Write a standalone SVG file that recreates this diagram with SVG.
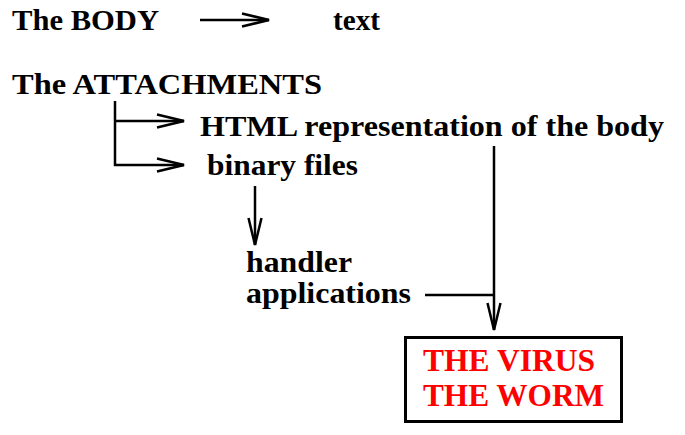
<svg xmlns="http://www.w3.org/2000/svg" width="685" height="435" viewBox="0 0 685 435">
<style>
.t{font-family:"Liberation Serif","Times New Roman",serif;font-weight:bold;font-size:30px;fill:#000}
.r{font-family:"Liberation Serif","Times New Roman",serif;font-weight:bold;font-size:32px;fill:#ff0000}
.c{stroke:#000;stroke-width:2.5;fill:none}
</style>
<defs>
<marker id="ah" markerUnits="userSpaceOnUse" markerWidth="40" markerHeight="20" viewBox="-30 -10 32 20" refX="0" refY="0" orient="auto">
<path d="M-27,-6.5 L0,0 L-27,6.5" stroke="#000" stroke-width="2.5" fill="none"/>
</marker>
</defs>
<rect width="685" height="435" fill="#fff"/>
<g id="body"><text class="t" x="12" y="30" textLength="147" lengthAdjust="spacingAndGlyphs">The BODY</text></g>
<g id="text"><text class="t" x="333" y="30" textLength="47" lengthAdjust="spacingAndGlyphs">text</text></g>
<g id="attachments"><text class="t" x="12" y="94" textLength="310" lengthAdjust="spacingAndGlyphs">The ATTACHMENTS</text></g>
<g id="html"><text class="t" x="200" y="136" textLength="464" lengthAdjust="spacingAndGlyphs">HTML representation of the body</text></g>
<g id="binary"><text class="t" x="207" y="175" textLength="151" lengthAdjust="spacingAndGlyphs">binary files</text></g>
<g id="handler">
<text class="t" x="246" y="272" textLength="106" lengthAdjust="spacingAndGlyphs">handler</text>
<text class="t" x="246" y="303" textLength="165" lengthAdjust="spacingAndGlyphs">applications</text>
</g>
<g id="virus">
<rect x="405.5" y="337.5" width="216" height="84" fill="#fff" stroke="#000" stroke-width="3"/>
<text class="r" x="423" y="371" textLength="172" lengthAdjust="spacingAndGlyphs">THE VIRUS</text>
<text class="r" x="423" y="406" textLength="181" lengthAdjust="spacingAndGlyphs">THE WORM</text>
</g>
<g id="connectors">
<path class="c" d="M200,20 L269,20" marker-end="url(#ah)"/>
<path class="c" d="M115,101 L115,165 L184,165" marker-end="url(#ah)"/>
<path class="c" d="M115,121 L184,121" marker-end="url(#ah)"/>
<path class="c" d="M255,186 L255,245" marker-end="url(#ah)"/>
<path class="c" d="M494,146 L494,330" marker-end="url(#ah)"/>
<path class="c" d="M425,295 L494,295"/>
</g>
</svg>
